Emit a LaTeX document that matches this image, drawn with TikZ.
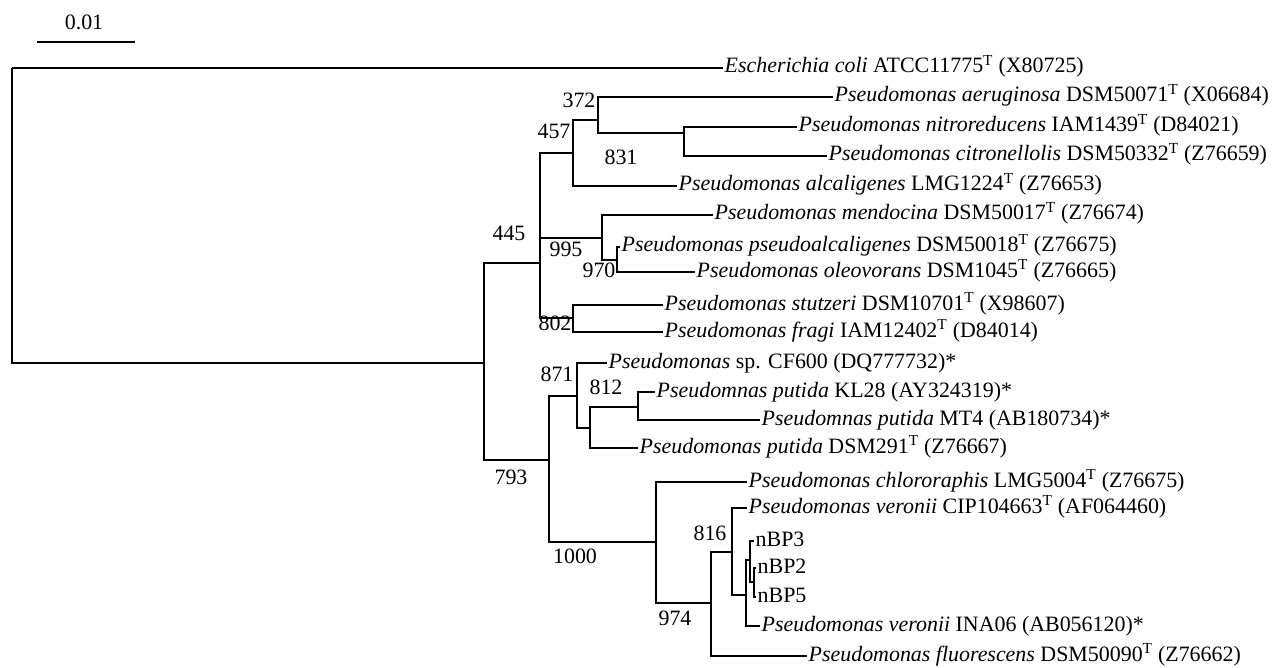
\documentclass[tikz,border=0pt]{standalone}
\usepackage{fontspec}
\setmainfont{Liberation Serif}
\begin{document}
\begin{tikzpicture}[x=1bp,y=-1bp,
  br/.style={line width=1.1bp,black},
  leaf/.style={anchor=west,inner sep=1.5bp,font=\fontsize{22}{24}\selectfont,text height=15bp,text depth=5bp},
  boot/.style={inner sep=0pt,font=\fontsize{22}{24}\selectfont}]
\useasboundingbox (0,0) rectangle (1279,668);
\newcommand{\Ps}{\textit{Pseudomonas}}
\newcommand{\Tsup}{\textsuperscript{T}}
% scale bar
\coordinate (sbA) at (37,42);
\coordinate (sbB) at (135,42);
\draw[br] (sbA) -- (sbB);
\node[boot] (sblab) at (84,22) {0.01};
% internal nodes
\coordinate (root) at (12,68);
\coordinate (nX) at (484,363);
\coordinate (n445) at (540,263);
\coordinate (n457) at (573,153);
\coordinate (n372) at (598,120);
\coordinate (n831) at (684,133);
\coordinate (n995) at (602,238);
\coordinate (n970) at (617,260);
\coordinate (n802) at (573,318);
\coordinate (n793) at (549,460);
\coordinate (n871) at (577,396);
\coordinate (n812) at (590,428);
\coordinate (nKL) at (638,407);
\coordinate (n1000) at (656,542);
\coordinate (n974) at (711,603);
\coordinate (n816) at (732,552);
\coordinate (nC) at (746,595);
\coordinate (nA) at (750,560);
\coordinate (nB) at (754,582);
% leaves
\node[leaf] (ecoli) at (723,68) {\textit{Escherichia coli} ATCC11775\Tsup{} (X80725)};
\node[leaf] (aer) at (833,97) {\Ps{} \textit{aeruginosa} DSM50071\Tsup{} (X06684)};
\node[leaf] (nitro) at (797,127) {\Ps{} \textit{nitroreducens} IAM1439\Tsup{} (D84021)};
\node[leaf] (citro) at (827,156) {\Ps{} \textit{citronellolis} DSM50332\Tsup{} (Z76659)};
\node[leaf] (alcal) at (677,186) {\Ps{} \textit{alcaligenes} LMG1224\Tsup{} (Z76653)};
\node[leaf] (mendo) at (713,215) {\Ps{} \textit{mendocina} DSM50017\Tsup{} (Z76674)};
\node[leaf] (pseudo) at (620,247) {\Ps{} \textit{pseudoalcaligenes} DSM50018\Tsup{} (Z76675)};
\node[leaf] (oleo) at (695,272) {\Ps{} \textit{oleovorans} DSM1045\Tsup{} (Z76665)};
\node[leaf] (stutz) at (663,305) {\Ps{} \textit{stutzeri} DSM10701\Tsup{} (X98607)};
\node[leaf] (fragi) at (663,332) {\Ps{} \textit{fragi} IAM12402\Tsup{} (D84014)};
\node[leaf] (cf600) at (607,363) {\Ps{} sp. CF600 (DQ777732)*};
\node[leaf] (kl28) at (655,392) {\textit{Pseudomnas putida} KL28 (AY324319)*};
\node[leaf] (mt4) at (760,420) {\textit{Pseudomnas putida} MT4 (AB180734)*};
\node[leaf] (dsm291) at (638,448) {\Ps{} \textit{putida} DSM291\Tsup{} (Z76667)};
\node[leaf] (chloro) at (747,482) {\Ps{} \textit{chlororaphis} LMG5004\Tsup{} (Z76675)};
\node[leaf] (veronii) at (747,508) {\Ps{} \textit{veronii} CIP104663\Tsup{} (AF064460)};
\node[leaf] (nbp3) at (754,541) {nBP3};
\node[leaf] (nbp2) at (756,568) {nBP2};
\node[leaf] (nbp5) at (756,597) {nBP5};
\node[leaf] (ina06) at (760,626) {\Ps{} \textit{veronii} INA06 (AB056120)*};
\node[leaf] (fluor) at (807,656) {\Ps{} \textit{fluorescens} DSM50090\Tsup{} (Z76662)};
% branches
\draw[br] (root) |- (ecoli.west);
\draw[br] (root) |- (nX);
\draw[br] (nX) |- (n445);
\draw[br] (nX) |- (n793);
\draw[br] (n445) |- (n457);
\draw[br] (n445) |- (n995);
\draw[br] (n445) |- (n802);
\draw[br] (n457) |- (n372);
\draw[br] (n457) |- (alcal.west);
\draw[br] (n372) |- (aer.west);
\draw[br] (n372) |- (n831);
\draw[br] (n831) |- (nitro.west);
\draw[br] (n831) |- (citro.west);
\draw[br] (n995) |- (mendo.west);
\draw[br] (n995) |- (n970);
\draw[br] (n970) |- (pseudo.west);
\draw[br] (n970) |- (oleo.west);
\draw[br] (n802) |- (stutz.west);
\draw[br] (n802) |- (fragi.west);
\draw[br] (n793) |- (n871);
\draw[br] (n793) |- (n1000);
\draw[br] (n871) |- (cf600.west);
\draw[br] (n871) |- (n812);
\draw[br] (n812) |- (nKL);
\draw[br] (n812) |- (dsm291.west);
\draw[br] (nKL) |- (kl28.west);
\draw[br] (nKL) |- (mt4.west);
\draw[br] (n1000) |- (chloro.west);
\draw[br] (n1000) |- (n974);
\draw[br] (n974) |- (n816);
\draw[br] (n974) |- (fluor.west);
\draw[br] (n816) |- (veronii.west);
\draw[br] (n816) |- (nC);
\draw[br] (nC) |- (nA);
\draw[br] (nC) |- (ina06.west);
\draw[br] (nA) |- (nbp3.west);
\draw[br] (nA) |- (nB);
\draw[br] (nB) |- (nbp2.west);
\draw[br] (nB) |- (nbp5.west);
% bootstrap values
\node[boot] (b372) at (579,100) {372};
\node[boot] (b457) at (554,131) {457};
\node[boot] (b831) at (621,157) {831};
\node[boot] (b445) at (509,233) {445};
\node[boot] (b995) at (566,249) {995};
\node[boot] (b970) at (599,270) {970};
\node[boot] (b802) at (555,323) {802};
\node[boot] (b871) at (557,374) {871};
\node[boot] (b812) at (606,387) {812};
\node[boot] (b793) at (511,477) {793};
\node[boot] (b1000) at (575,556) {1000};
\node[boot] (b974) at (675,618) {974};
\node[boot] (b816) at (710,533) {816};
\end{tikzpicture}
\end{document}
